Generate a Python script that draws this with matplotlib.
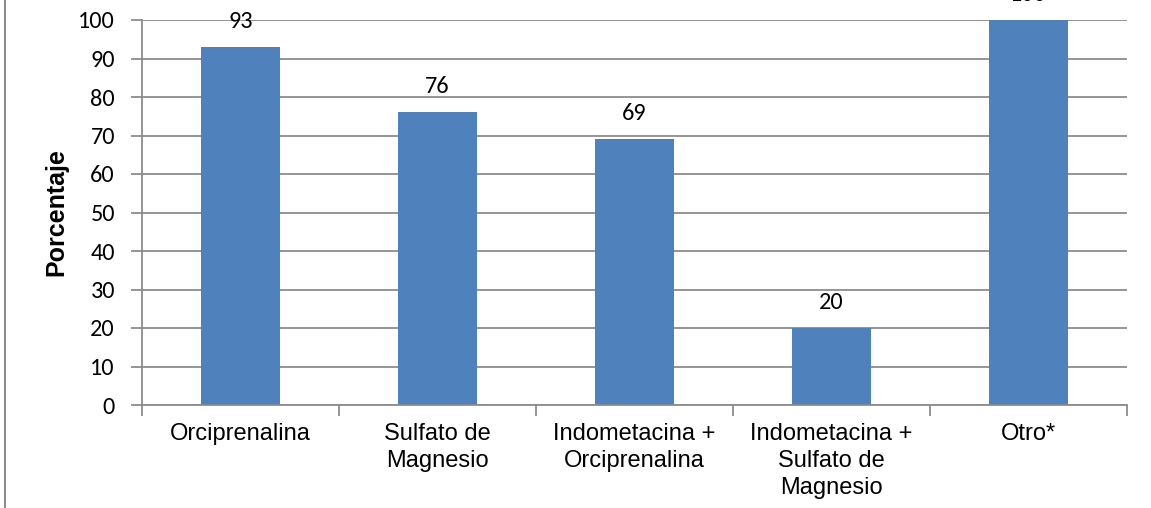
import matplotlib
matplotlib.use("Agg")
import matplotlib.pyplot as plt
from matplotlib.lines import Line2D
import numpy as np

categories = [
    "Orciprenalina",
    "Sulfato de\nMagnesio",
    "Indometacina +\nOrciprenalina",
    "Indometacina +\nSulfato de\nMagnesio",
    "Otro*",
]
percentages = [93, 76, 69, 20, 100]
y_ticks = [0, 10, 20, 30, 40, 50, 60, 70, 80, 90, 100]

BAR_COLOR = "#4F81BD"
GRID_COLOR = "#8C8C8C"
NUM_FONT = ["Carlito", "Lato", "DejaVu Sans"]
TXT_FONT = ["Liberation Sans", "DejaVu Sans"]

fig = plt.figure(figsize=(11.51, 5.08), dpi=100)
ax = fig.add_axes([142 / 1151, 1 - 405 / 508, 985 / 1151, 385 / 508])

x = np.arange(len(categories))
ax.bar(x, percentages, width=0.4, color=BAR_COLOR, zorder=2)

for xi, val in zip(x, percentages):
    ax.annotate(str(val), (xi, val), xytext=(0, 14), textcoords="offset points",
                ha="center", va="baseline", fontsize=17.5, family=NUM_FONT,
                color="#000000", annotation_clip=False)

ax.set_xlim(-0.5, len(categories) - 0.5)
ax.set_ylim(0, 100)
ax.set_yticks(y_ticks)
ax.set_yticklabels([str(t) for t in y_ticks], family=NUM_FONT, fontsize=17.5)
ax.yaxis.grid(True, color=GRID_COLOR, linewidth=1.3, zorder=0)
ax.set_axisbelow(True)

# category labels between boundary ticks
ax.set_xticks(x)
ax.set_xticklabels(categories, family=TXT_FONT, fontsize=17, linespacing=1.3, va="top")
ax.tick_params(axis="x", length=0, pad=13)
ax.set_xticks(np.arange(len(categories) + 1) - 0.5, minor=True)
ax.tick_params(axis="x", which="minor", length=8, width=1.3, color=GRID_COLOR)
ax.tick_params(axis="y", length=8, width=1.3, color=GRID_COLOR, pad=11.5)

for side in ("top", "right"):
    ax.spines[side].set_visible(False)
for side in ("left", "bottom"):
    ax.spines[side].set_color(GRID_COLOR)
    ax.spines[side].set_linewidth(1.3)

ax.set_ylabel("Porcentaje", family=TXT_FONT, fontsize=18, fontweight="bold", labelpad=7)

# chart frame edge on the left
fig.add_artist(Line2D([4.5 / 1151, 4.5 / 1151], [0, 1], color="#8C8C8C", linewidth=1.5))

fig.savefig("out.png", dpi=100)
